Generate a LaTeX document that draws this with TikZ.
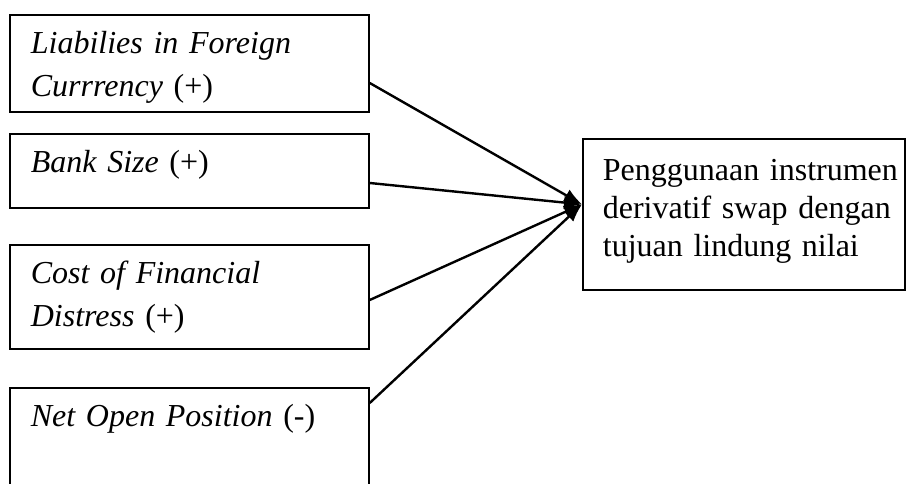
\documentclass[tikz,border=0pt]{standalone}
\usepackage{fontspec}
\setmainfont{Liberation Serif}
\usetikzlibrary{arrows.meta}

\begin{document}
\begin{tikzpicture}[x=0.75pt,y=-0.75pt,>={Latex[length=13.5pt,width=10pt]},
            factor/.style={draw, line width=1.3pt, anchor=north west, inner ysep=0pt,
                inner xsep=15.75pt, text width=237.75pt, align=left, text height=29.25pt,
                font=\fontsize{24}{32.25}\selectfont},
            target/.style={draw, line width=1.3pt, anchor=north west, inner ysep=0pt,
                inner xsep=15pt, text width=211.5pt, align=left, text height=31.5pt,
                text depth=81.75pt, font=\fontsize{24}{28.5}\selectfont},
            link/.style={->, line width=1.8pt}]
            \useasboundingbox (0,0) rectangle (906,484);
            \clip (0,0) rectangle (906,484);
            \node[factor, text depth=43.5pt] (liab) at (9,14) {\textit{Liabilies in Foreign}\\\textit{Currrency} (+)};
            \node[factor, text depth=26.25pt] (size) at (9,133) {\textit{Bank Size} (+)};
            \node[factor, text depth=48.75pt] (cost) at (9,244) {\textit{Cost of Financial}\\\textit{Distress} (+)};
            \node[factor, text depth=82.5pt] (nop) at (9,387) {\textit{Net Open Position} (-)};
            \node[target] (goal) at (582,138) {\mbox{Penggunaan instrumen}\\\mbox{derivatif swap dengan}\\\mbox{tujuan lindung nilai}};
            \coordinate (hub) at ([yshift=7.5pt]goal.west);
            \draw[link] ([yshift=-51.75pt]liab.north east) -- (hub);
            \draw[link] ([yshift=-37.5pt]size.north east) -- (hub);
            \draw[link] ([yshift=-42pt]cost.north east) -- (hub);
            \draw[link] ([yshift=-12pt]nop.north east) -- (hub);
        \end{tikzpicture}
\end{document}
